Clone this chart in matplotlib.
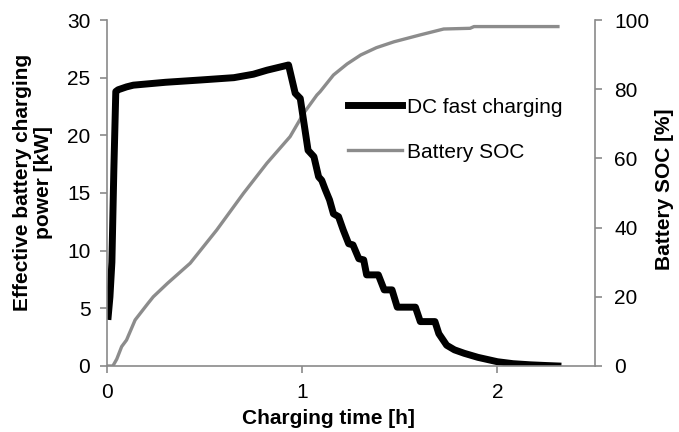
import numpy as np
import matplotlib.pyplot as plt

plt.rcParams['font.family'] = ['Liberation Sans', 'DejaVu Sans']

# DC fast charging power [kW] vs time [h]
t_pow = [0.006, 0.015, 0.025, 0.035, 0.045, 0.057, 0.10, 0.135, 0.30, 0.48, 0.65, 0.75, 0.82, 0.93,
         0.955, 0.964, 0.99, 1.03, 1.06, 1.084, 1.10, 1.118, 1.14, 1.16, 1.186, 1.21, 1.238, 1.26,
         1.29, 1.315, 1.33, 1.39, 1.42, 1.46, 1.487, 1.58, 1.605, 1.68, 1.70, 1.74, 1.78, 1.83,
         1.90, 2.0, 2.08, 2.17, 2.25, 2.31]
p_kw = [4.3, 6.0, 9.0, 17.0, 23.8, 23.95, 24.2, 24.35, 24.6, 24.8, 25.0, 25.3, 25.65, 26.1,
        24.3, 23.65, 23.2, 18.7, 18.15, 16.4, 16.1, 15.3, 14.4, 13.2, 12.95, 11.8, 10.6, 10.5,
        9.3, 9.2, 7.9, 7.9, 6.6, 6.6, 5.1, 5.1, 3.85, 3.85, 2.8, 1.8, 1.4, 1.1,
        0.75, 0.37, 0.2, 0.1, 0.04, 0.0]

# Battery SOC [%] vs time [h]
t_soc = [0.0, 0.03, 0.05, 0.075, 0.10, 0.144, 0.21, 0.237, 0.31, 0.426, 0.562, 0.699, 0.819,
         0.938, 1.007, 1.075, 1.092, 1.16, 1.23, 1.30, 1.38, 1.47, 1.605, 1.725, 1.86, 1.88, 2.31]
soc = [0.0, 0.0, 2.0, 5.6, 7.5, 13.3, 18.1, 20.0, 23.9, 29.7, 39.3, 49.9, 58.6,
       66.3, 73.0, 78.3, 79.3, 84.1, 87.3, 89.9, 92.0, 93.7, 95.7, 97.4, 97.6, 98.1, 98.1]

axcol = '#8a8a8a'

fig = plt.figure(figsize=(6.79, 4.32), dpi=100)
ax = fig.add_axes([0.1576, 0.1528, 0.7187, 0.8009])
ax2 = ax.twinx()

l1, = ax.plot(t_pow, p_kw, color='black', lw=5, solid_joinstyle='round', label='DC fast charging')
l2, = ax2.plot(t_soc, soc, color='#8c8c8c', lw=2.4, label='Battery SOC')
ax.set_zorder(2)
ax.patch.set_visible(False)

ax.set_xlim(0, 2.5)
ax.set_ylim(0, 30)
ax2.set_ylim(0, 100)
ax.set_xticks([0, 1, 2])
ax.set_yticks(np.arange(0, 31, 5))
ax2.set_yticks(np.arange(0, 101, 20))

for a in (ax, ax2):
    a.spines['top'].set_visible(False)
    for s in ('left', 'right', 'bottom'):
        a.spines[s].set_color(axcol)
        a.spines[s].set_linewidth(1.2)
    a.tick_params(colors=axcol, labelcolor='black', labelsize=15, length=5, width=1.2)
ax.tick_params(axis='y', pad=7)
ax.tick_params(axis='x', pad=7)
ax2.tick_params(axis='y', pad=9)
ax.spines['right'].set_visible(False)
ax2.spines['left'].set_visible(False)
ax2.spines['bottom'].set_visible(False)

ax.set_xlabel('Charging time [h]', fontsize=15, fontweight='bold')
ax.xaxis.set_label_coords(0.453, -0.125)
ax.set_ylabel('Effective battery charging\npower [kW]', fontsize=15, fontweight='bold', linespacing=1.15)
ax.yaxis.set_label_coords(-0.111, 0.53)
ax2.set_ylabel('Battery SOC [%]', fontsize=15, fontweight='bold')
ax2.yaxis.set_label_coords(1.123, 0.51)

ax.legend([l1, l2], ['DC fast charging', 'Battery SOC'], loc='upper left',
          bbox_to_anchor=(0.455, 0.83), frameon=False, fontsize=15,
          handlelength=2.6, handletextpad=0.25, labelspacing=1.25)

fig.savefig('out.png', dpi=100)
